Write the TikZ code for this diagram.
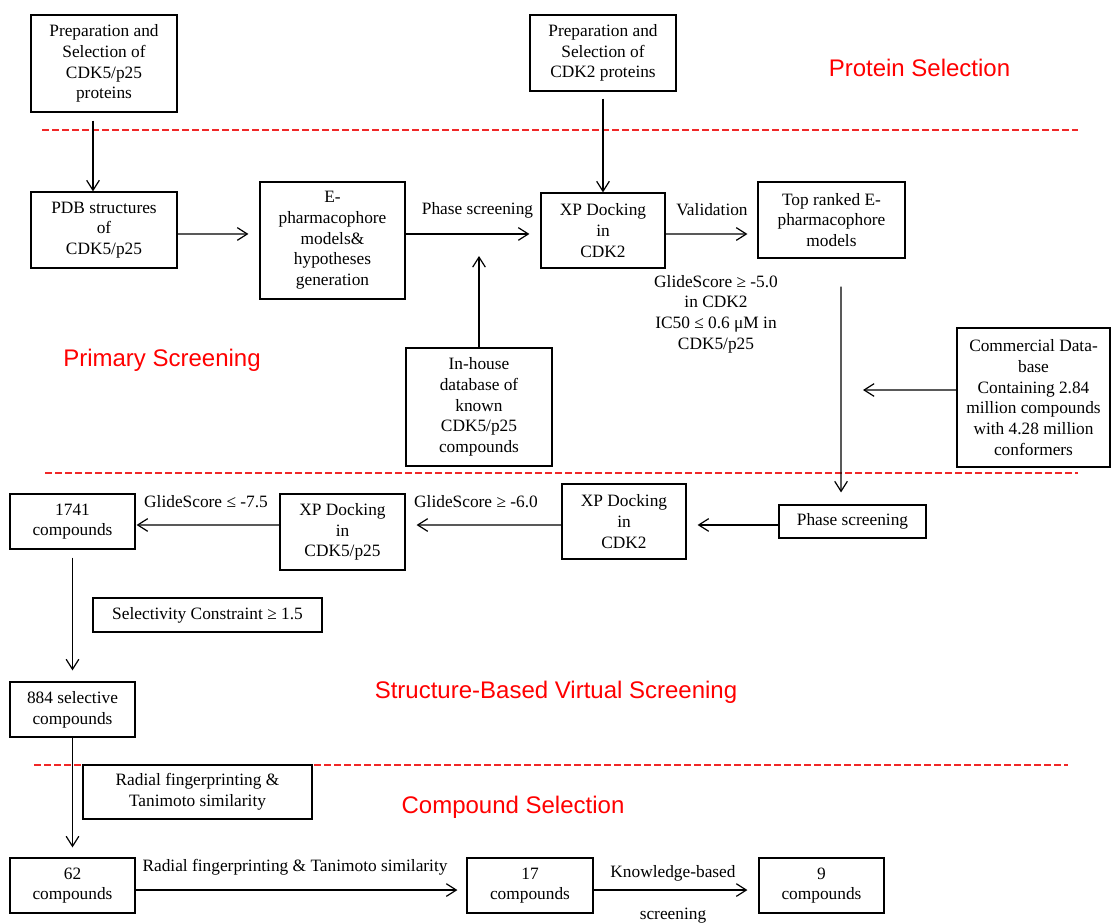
\documentclass[tikz,border=0pt]{standalone}
\usepackage{fontspec}
\setmainfont{Liberation Serif}
\newfontfamily\headfont{Liberation Sans}
\usepackage{tikz}
\usetikzlibrary{arrows.meta, positioning, calc}
\definecolor{sepred}{RGB}{240,40,40}

\tikzset{
  box/.style={draw, line width=0.9pt, inner sep=0pt, align=center, font=\fontsize{13}{15.5}\selectfont},
  lbl/.style={inner sep=0pt, align=center, font=\fontsize{13}{15.5}\selectfont},
  sect/.style={inner sep=0pt, text=red, font=\headfont\fontsize{18}{21}\selectfont},
  arr/.style={-{Straight Barb[length=7.5pt,width=9.5pt]}, line width=0.9pt},
  sepline/.style={draw=sepred, line width=0.9pt, dash pattern=on 5pt off 2.5pt}
}

\begin{document}
\begin{tikzpicture}[x=0.75pt, y=-0.75pt]
\useasboundingbox (0,0) rectangle (1112,922);

% Protein Selection
\node[box, minimum width=109.5pt, minimum height=72.75pt] (prepA) at (104,63.5) {Preparation and\\Selection of\\CDK5/p25\\proteins};
\node[box, minimum width=109.5pt, minimum height=57pt] (prepB) at (603,53) {Preparation and\\Selection of\\CDK2 proteins};
\node[sect] (protSel) at (919.5,68) {Protein Selection};
\draw[sepline] (42,130) -- (1078,130);

% Primary Screening
\node[box, minimum width=109.5pt, minimum height=57pt] (pdb) at (104,230) {PDB structures\\of\\CDK5/p25};
\node[box, minimum width=108.75pt, minimum height=87.75pt] (ePharm) at (332.5,240.5) {E-\\pharmacophore\\models\&\\hypotheses\\generation};
\node[box, minimum width=93pt, minimum height=56.25pt] (xpA) at (603,230.5) {XP Docking\\in\\CDK2};
\node[box, minimum width=110.25pt, minimum height=57pt] (topRank) at (831.5,220) {Top ranked E-\\pharmacophore\\models};
\node[lbl] (gsA) at (716,314) {GlideScore ≥ -5.0\\in CDK2\\IC50 ≤ 0.6 μM in\\CDK5/p25};
\node[box, minimum width=109.5pt, minimum height=88.5pt] (inHouse) at (479,407) {In-house\\database of\\known\\CDK5/p25\\compounds};
\node[box, minimum width=114.75pt, minimum height=104.25pt] (commDb) at (1033.5,397.5) {Commercial Data-\\base\\Containing 2.84\\million compounds\\with 4.28 million\\conformers};
\node[sect] (primSel) at (162,360) {Primary Screening};
\node[lbl] (lblPhase) at (477.5,210) {Phase screening};
\node[lbl] (lblValid) at (712,210) {Validation};
\coordinate (inTip) at (479,256);
\coordinate (commTip) at (863,390);

\draw[arr] ([xshift=-8.25pt,yshift=-6pt]prepA.south) -- ([xshift=-8.25pt]pdb.north);
\draw[arr] ([yshift=-5.25pt]prepB.south) -- (xpA.north);
\draw[arr] ([yshift=-3pt]pdb.east) -- ([xshift=-8.25pt,yshift=4.9pt]ePharm.west);
\draw[arr] ([yshift=4.9pt]ePharm.east) -- ([xshift=-8.25pt,yshift=-2.6pt]xpA.west);
\draw[arr] ([yshift=-2.6pt]xpA.east) -- ([xshift=-7.5pt,yshift=-10.5pt]topRank.west);
\draw[arr] (inHouse.north) -- (inTip);
\draw[arr] ([yshift=5.6pt]commDb.west) -- (commTip);
\draw[sepline] (45,473) -- (1078,473);

% Structure-Based Virtual Screening
\node[box, minimum width=110.25pt, minimum height=24.75pt] (phase) at (852.5,521.5) {Phase screening};
\node[box, minimum width=93pt, minimum height=56.25pt] (xpB) at (624,521.5) {XP Docking\\in\\CDK2};
\node[box, minimum width=93.75pt, minimum height=57pt] (xpC) at (342.5,532) {XP Docking\\in\\CDK5/p25};
\node[box, minimum width=93.75pt, minimum height=41.25pt] (c1741) at (72.5,521.5) {1741\\compounds};
\node[box, minimum width=171.75pt, minimum height=25.5pt] (selConst) at (207.5,615) {Selectivity Constraint ≥ 1.5};
\node[box, minimum width=93.75pt, minimum height=41.25pt] (c884) at (72.5,709.5) {884 selective\\compounds};
\node[sect] (sbvs) at (556,692) {Structure-Based Virtual Screening};
\node[lbl] (gsB) at (476,502) {GlideScore ≥ -6.0};
\node[lbl] (gsC) at (206,502) {GlideScore ≤ -7.5};

\draw[arr] ([xshift=7.1pt,yshift=-21pt]topRank.south) -- ([xshift=-8.6pt,yshift=9pt]phase.north);
\draw[arr] ([yshift=-2.6pt]phase.west) -- ([xshift=8.25pt,yshift=-2.6pt]xpB.east);
\draw[arr] ([yshift=-2.6pt]xpB.west) -- ([xshift=8.25pt,yshift=5.25pt]xpC.east);
\draw[arr] ([yshift=5.25pt]xpC.west) -- ([xshift=0.75pt,yshift=-2.6pt]c1741.east);
\draw[arr] ([yshift=-6pt]c1741.south) -- ([yshift=8.25pt]c884.north);
\draw[sepline] (34,765) -- (1068,765);

% Compound Selection
\node[box, minimum width=171.75pt, minimum height=40.5pt] (radial) at (197.5,792) {Radial fingerprinting \&\\Tanimoto similarity};
\node[sect] (compSel) at (513,807) {Compound Selection};
\node[box, minimum width=93.75pt, minimum height=41.25pt] (c62) at (72.5,885.5) {62\\compounds};
\node[box, minimum width=94.5pt, minimum height=41.25pt] (c17) at (530,885.5) {17\\compounds};
\node[box, minimum width=93.75pt, minimum height=41.25pt] (c9) at (821.5,885.5) {9\\compounds};
\node[lbl] (lblRadial) at (295,867) {Radial fingerprinting \& Tanimoto similarity};
\node[lbl] (lblKnow) at (673,873) {Knowledge-based};
\node[lbl] (lblScr) at (673,916) {screening};

\draw[arr] (c884.south) -- ([yshift=7.5pt]c62.north);
\draw[arr] ([yshift=-3.4pt]c62.east) -- ([xshift=-6.75pt,yshift=-3.4pt]c17.west);
\draw[arr] ([yshift=-3.4pt]c17.east) -- ([xshift=-8.25pt,yshift=-3.4pt]c9.west);
\end{tikzpicture}
\end{document}
